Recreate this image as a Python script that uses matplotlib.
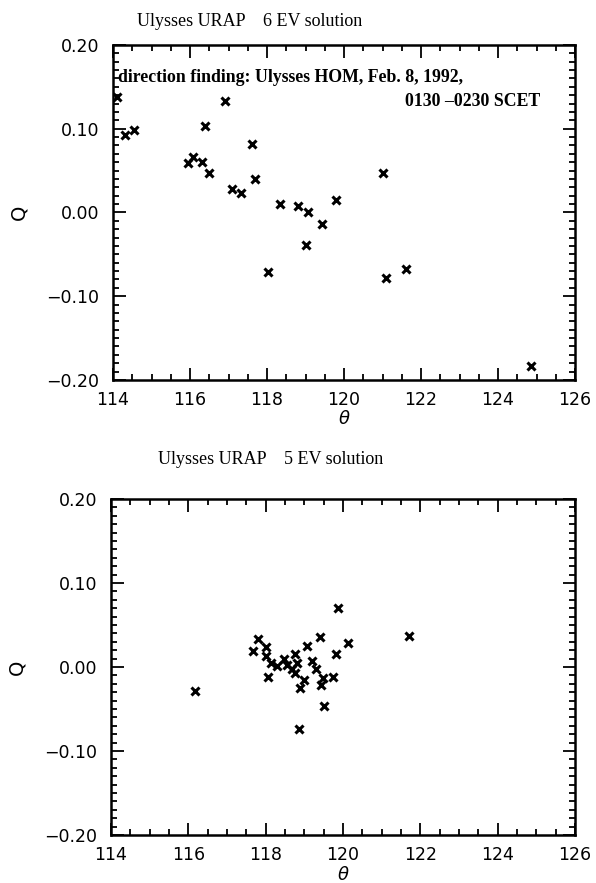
import matplotlib
matplotlib.use("Agg")
import matplotlib.pyplot as plt
from matplotlib.ticker import MultipleLocator, FuncFormatter

theta_6ev = [114.1, 114.3, 114.55, 116.9, 116.4, 117.6, 115.96, 116.07, 116.32, 116.49,
             117.1, 117.33, 117.7, 118.35, 118.8, 119.06, 119.8, 118.03, 119.0, 119.42,
             121.0, 121.1, 121.6, 124.86]
q_6ev = [0.138, 0.093, 0.099, 0.133, 0.103, 0.082, 0.059, 0.066, 0.060, 0.047,
         0.028, 0.023, 0.040, 0.010, 0.008, 0.001, 0.015, -0.071, -0.039, -0.014,
         0.047, -0.078, -0.067, -0.183]

theta_5ev = [116.17, 119.88, 120.14, 119.4, 119.08, 119.81, 119.75, 119.49, 119.43, 119.5,
             118.87, 118.88, 118.99, 118.77, 118.77, 118.8, 119.21, 119.29, 118.47, 118.54,
             118.3, 118.15, 118.02, 118.02, 117.81, 117.68, 118.05, 118.69, 121.7]
q_5ev = [-0.028, 0.070, 0.028, 0.036, 0.025, 0.016, -0.012, -0.013, -0.021, -0.047,
         -0.074, -0.025, -0.015, -0.007, 0.016, 0.005, 0.007, -0.002, 0.010, 0.002,
         0.001, 0.005, 0.013, 0.024, 0.033, 0.019, -0.012, -0.002, 0.037]

titles = ["Ulysses URAP    6 EV solution", "Ulysses URAP    5 EV solution"]
note_line1 = "direction finding: Ulysses HOM, Feb. 8, 1992,"
note_line2 = "0130 \u20130230 SCET"

W, H = 596, 883
fig = plt.figure(figsize=(W / 100, H / 100), dpi=100)

def fx(px):
    return px / W

def fy(py):
    return 1 - py / H

ax1 = fig.add_axes([fx(113), fy(380), fx(575 - 113), (380 - 45) / H])
ax2 = fig.add_axes([fx(111), fy(835), fx(575 - 111), (835 - 499) / H])

yfmt = FuncFormatter(lambda v, p: ("%.2f" % v).replace("-", "\u2212") if abs(v) > 1e-9 else "0.00")

for ax, th, q in [(ax1, theta_6ev, q_6ev), (ax2, theta_5ev, q_5ev)]:
    ax.plot(th, q, linestyle="none", marker="x", ms=6, mew=2.2, color="black")
    ax.set_xlim(114, 126)
    ax.set_ylim(-0.2, 0.2)
    ax.xaxis.set_major_locator(MultipleLocator(2))
    ax.xaxis.set_minor_locator(MultipleLocator(0.5))
    ax.yaxis.set_major_locator(MultipleLocator(0.1))
    ax.yaxis.set_minor_locator(MultipleLocator(0.01))
    ax.yaxis.set_major_formatter(yfmt)
    ax.tick_params(which="both", direction="in", top=True, right=True, width=1.3,
                   labelsize=12.5)
    ax.tick_params(axis="x", which="major", pad=8)
    ax.tick_params(axis="y", which="major", pad=10)
    ax.tick_params(which="major", length=9)
    ax.tick_params(which="minor", length=4.5)
    for lab in ax.get_xticklabels() + ax.get_yticklabels():
        lab.set_family("DejaVu Sans")
    for s in ax.spines.values():
        s.set_linewidth(1.8)
    ax.set_xlabel(r"$\theta$", fontsize=13, labelpad=1)
    ax.set_ylabel("Q", fontsize=14, family="DejaVu Sans", labelpad=13)

fig.text(fx(137), fy(22), titles[0], family="Liberation Serif", fontsize=13, va="center", ha="left")
fig.text(fx(158), fy(460), titles[1], family="Liberation Serif", fontsize=13, va="center", ha="left")
fig.text(fx(118), fy(77), note_line1, family="Liberation Serif", fontweight="bold", fontsize=12.8,
         va="center", ha="left")
fig.text(fx(540), fy(102), note_line2, family="Liberation Serif", fontweight="bold", fontsize=12.8,
         va="center", ha="right")

fig.savefig("out.png", dpi=100)
